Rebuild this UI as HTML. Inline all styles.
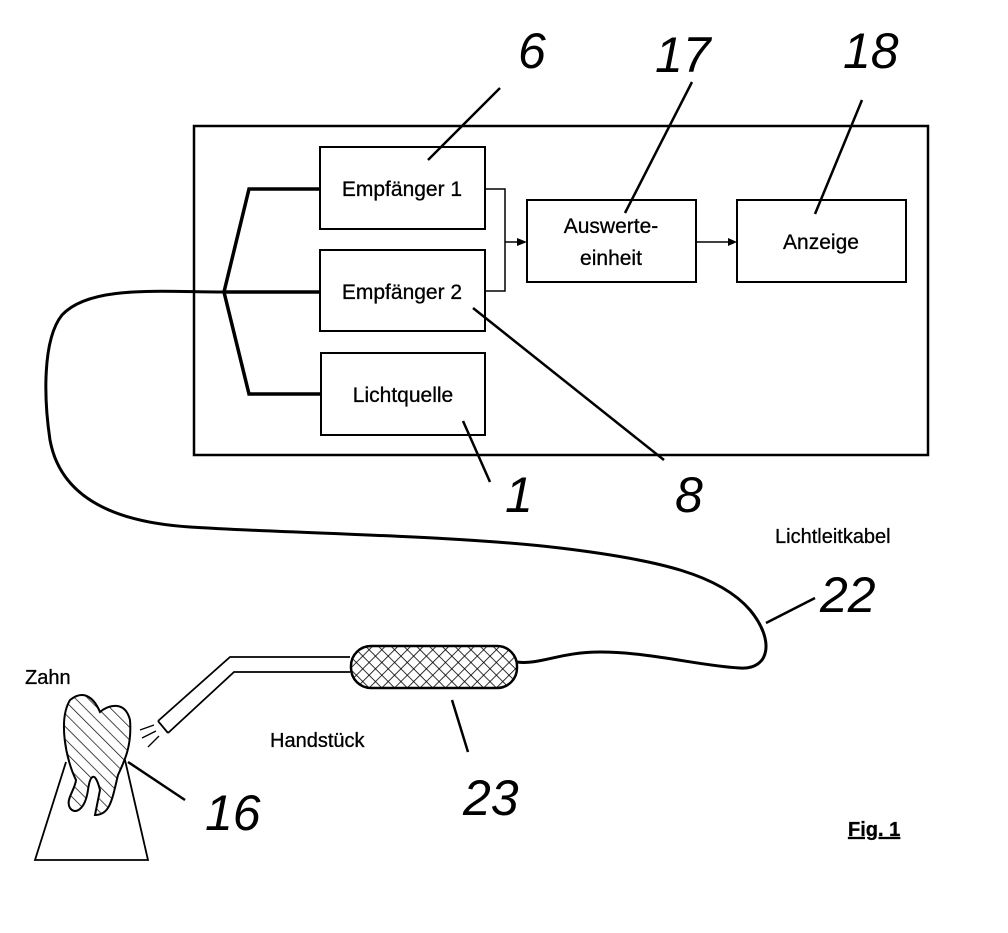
<!DOCTYPE html>
<html><head><meta charset="utf-8"><style>
body{margin:0;background:#fff}
svg text{font-family:"Liberation Sans",sans-serif}
</style></head><body>
<svg width="1008" height="928" viewBox="0 0 1008 928" xmlns="http://www.w3.org/2000/svg">
<defs>
<pattern id="hatch" width="9" height="9" patternUnits="userSpaceOnUse" patternTransform="rotate(45)">
<line x1="0" y1="0" x2="0" y2="9" stroke="#000" stroke-width="1.6"/>
<line x1="0" y1="0" x2="9" y2="0" stroke="#000" stroke-width="1.6"/>
</pattern>
<pattern id="diag" width="9" height="9" patternUnits="userSpaceOnUse" patternTransform="rotate(-45)">
<line x1="0" y1="0" x2="0" y2="9" stroke="#000" stroke-width="1.4"/>
</pattern>
</defs>
<g fill="none" stroke="#000">
<rect x="194" y="126" width="734" height="329" stroke-width="2.5"/>
<rect x="320" y="147" width="165" height="82" stroke-width="2"/>
<rect x="320" y="250" width="165" height="81" stroke-width="2"/>
<rect x="321" y="353" width="164" height="82" stroke-width="2"/>
<rect x="527" y="200" width="169" height="82" stroke-width="2"/>
<rect x="737" y="200" width="169" height="82" stroke-width="2"/>
<path d="M320 189 H249 L224 292 L249 394 H321" stroke-width="3.5"/>
<path d="M224 292 H320" stroke-width="3.5"/>
<path d="M485 189 H505 V291 H485 M505 242 H520" stroke-width="1.5"/>
<path d="M696 242 H730" stroke-width="1.5"/>
<path d="M224 292 C160 292 90 285 62 315 C42 340 44 400 50 440 C60 495 110 522 190 527 C300 534 450 535 560 548 C660 560 720 575 750 610 C775 640 770 670 740 668 C700 666 650 652 600 652 C560 652 540 665 517 662" stroke-width="3"/>
<path d="M350 657 H230 L158 721 M350 672 H234 L168 733 M158 721 L168 733" stroke-width="1.8"/>
<rect x="351" y="646" width="166" height="42" rx="20" fill="url(#hatch)" stroke-width="2.5"/>
<path d="M154 725 L140 730 M156 731 L142 738 M159 736 L148 747" stroke-width="1.3"/>
<path d="M66 762 L35 860 H148 L125 760" stroke-width="1.8"/>
<path d="M70 700 C85 688 95 700 100 712 C108 705 125 700 130 720 C132 745 125 760 118 775 C112 800 110 815 95 815 L100 790 C95 770 90 775 88 790 C85 810 75 815 70 808 C65 800 75 790 76 780 C66 760 58 720 70 700 Z" fill="url(#diag)" stroke-width="2"/>
<g stroke-width="2.5">
<path d="M428 160 L500 88"/>
<path d="M625 213 L692 82"/>
<path d="M815 214 L862 100"/>
<path d="M463 421 L490 482"/>
<path d="M473 308 L664 460"/>
<path d="M766 623 L815 598"/>
<path d="M452 700 L468 752"/>
<path d="M128 762 L185 800"/>
</g>
</g>
<path d="M527 242 L517 238 L517 246 Z M737 242 L728 238 L728 246 Z" fill="#000"/>
<g font-size="21" fill="#000" text-anchor="middle" stroke="#000" stroke-width="0.3">
<text x="402" y="196">Empfänger 1</text>
<text x="402" y="299">Empfänger 2</text>
<text x="403" y="402">Lichtquelle</text>
<text x="611" y="233">Auswerte-</text>
<text x="611" y="265">einheit</text>
<text x="821" y="249">Anzeige</text>
</g>
<g font-size="20" fill="#000" stroke="#000" stroke-width="0.3">
<text x="775" y="543">Lichtleitkabel</text>
<text x="25" y="684">Zahn</text>
<text x="270" y="747">Handstück</text>
<text x="848" y="836" font-weight="bold" text-decoration="underline">Fig. 1</text>
</g>
<g font-size="50" fill="#000" font-style="italic">
<text x="518" y="68">6</text>
<text x="655" y="72">17</text>
<text x="843" y="68">18</text>
<text x="505" y="512">1</text>
<text x="675" y="512">8</text>
<text x="820" y="612">22</text>
<text x="205" y="830">16</text>
<text x="463" y="815">23</text>
</g>
</svg>
</body></html>
